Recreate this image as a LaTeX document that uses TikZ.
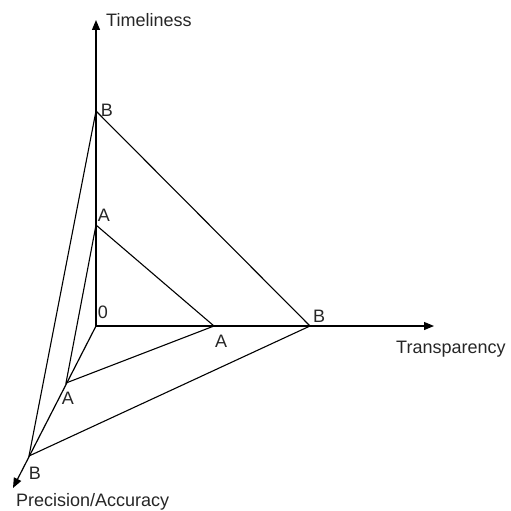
\documentclass[tikz,border=0pt]{standalone}
\usepackage{fontspec}
\setmainfont{Liberation Sans}
\usetikzlibrary{arrows.meta}
\begin{document}
\begin{tikzpicture}[x=1pt,y=-1pt,
  axis/.style={line width=1.2pt,-{Triangle[length=10pt,width=8pt]}},
  edge/.style={line width=1.1pt},
  lbl/.style={font=\fontsize{18}{18}\selectfont,text=black!85,inner sep=0pt}]
\useasboundingbox (0,0) rectangle (511,511);
\coordinate (O) at (96,326);
\coordinate (ty) at (96,20);
\coordinate (tx) at (434,326);
\coordinate (tz) at (13,488);
\coordinate (By) at (96,111);
\coordinate (Ay) at (96,225);
\coordinate (Ax) at (214,326);
\coordinate (Bx) at (310,326);
\coordinate (Az) at (66,383);
\coordinate (Bz) at (29,456);
\draw[axis] (O) -- (ty);
\draw[axis] (O) -- (tx);
\draw[axis] (O) -- (tz);
\draw[edge] (By) -- (Bx) -- (Bz) -- cycle;
\draw[edge] (Ay) -- (Ax) -- (Az) -- cycle;
\node[lbl,anchor=base west] (lt) at (106,27) {Timeliness};
\node[lbl,anchor=base west] (ltr) at (396,353) {Transparency};
\node[lbl,anchor=base west] (lp) at (16,506) {Precision/Accuracy};
\node[lbl] (lBy) at (107,110) {B};
\node[lbl] (lAy) at (104,215) {A};
\node[lbl] (l0) at (103,312) {0};
\node[lbl] (lAx) at (221,341) {A};
\node[lbl] (lBx) at (319,316) {B};
\node[lbl] (lAz) at (68,398) {A};
\node[lbl] (lBz) at (35,473) {B};
\end{tikzpicture}
\end{document}
